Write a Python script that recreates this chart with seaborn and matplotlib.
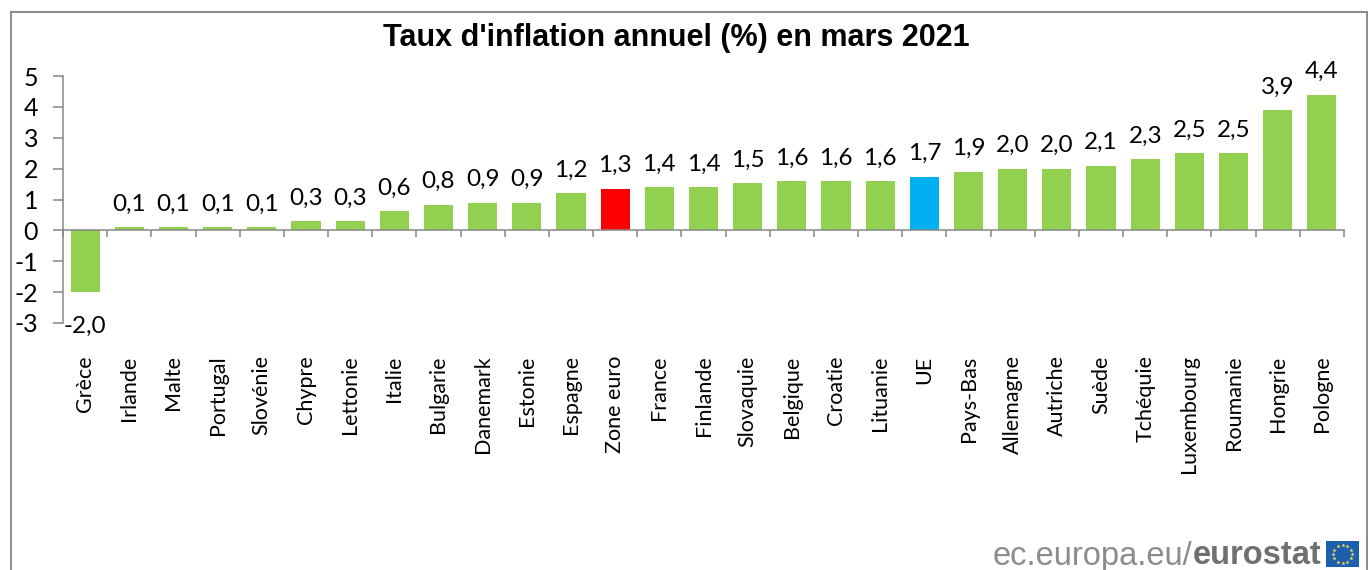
import numpy as np
import pandas as pd
import seaborn as sns
import matplotlib
matplotlib.use('Agg')
import matplotlib.pyplot as plt
from matplotlib.patches import Rectangle

# Data
countries = ['Grèce', 'Irlande', 'Malte', 'Portugal', 'Slovénie', 'Chypre', 'Lettonie', 'Italie',
             'Bulgarie', 'Danemark', 'Estonie', 'Espagne', 'Zone euro', 'France', 'Finlande',
             'Slovaquie', 'Belgique', 'Croatie', 'Lituanie', 'UE', 'Pays-Bas', 'Allemagne',
             'Autriche', 'Suède', 'Tchéquie', 'Luxembourg', 'Roumanie', 'Hongrie', 'Pologne']
inflation = [-2.0, 0.1, 0.1, 0.1, 0.1, 0.3, 0.3, 0.63, 0.83, 0.9, 0.9, 1.2, 1.35, 1.4, 1.4,
             1.53, 1.6, 1.6, 1.6, 1.74, 1.9, 2.0, 2.0, 2.1, 2.3, 2.5, 2.5, 3.9, 4.4]
value_labels = ['-2,0', '0,1', '0,1', '0,1', '0,1', '0,3', '0,3', '0,6', '0,8', '0,9', '0,9', '1,2',
                '1,3', '1,4', '1,4', '1,5', '1,6', '1,6', '1,6', '1,7', '1,9', '2,0', '2,0', '2,1',
                '2,3', '2,5', '2,5', '3,9', '4,4']
y_ticks = [-3, -2, -1, 0, 1, 2, 3, 4, 5]

df = pd.DataFrame({'pays': countries, 'taux': inflation})

GREEN = '#92D050'
GREY = '#868686'
colors = {c: GREEN for c in countries}
colors['Zone euro'] = '#FF0000'
colors['UE'] = '#00B0F0'

W, H = 1370, 570
plt.rcParams['font.family'] = ['Lato', 'DejaVu Sans']
fig = plt.figure(figsize=(W / 100, H / 100), dpi=100)

# Axes box in pixels: x 63-1344, y 76-323
ax = fig.add_axes([63 / W, 1 - 323 / H, (1344 - 63) / W, (323 - 76) / H])
sns.barplot(data=df, x='pays', y='taux', hue='pays', palette=colors, dodge=False,
            width=0.66, legend=False, ax=ax, saturation=1)

ax.set_xlim(-0.5, len(countries) - 0.5)
ax.set_ylim(-3, 5)
ax.set_xlabel('')
ax.set_ylabel('')
ax.set_yticks(y_ticks)
ax.set_yticklabels([str(t) for t in y_ticks])

for s in ['top', 'right']:
    ax.spines[s].set_visible(False)
ax.spines['bottom'].set_position(('data', 0))
for s in ['left', 'bottom']:
    ax.spines[s].set_color(GREY)
    ax.spines[s].set_linewidth(1.1)

ax.tick_params(axis='y', direction='out', length=7, width=1.1, color=GREY, labelsize=18, pad=11)
ax.set_xticks(range(len(countries)))
ax.set_xticklabels(countries, rotation=90, ha='center', va='top', fontsize=15.5)
ax.tick_params(axis='x', which='major', length=0, pad=90)
ax.set_xticks(np.arange(len(countries) + 1) - 0.5, minor=True)
ax.tick_params(axis='x', which='minor', direction='out', length=5, width=1.1, color=GREY)

for i, (v, lab) in enumerate(zip(inflation, value_labels)):
    if v < 0:
        ax.annotate(lab, (i, v), xytext=(0, -17), textcoords='offset points',
                    ha='center', va='top', fontsize=17.5, color='black')
    else:
        ax.annotate(lab, (i, v), xytext=(0, 9), textcoords='offset points',
                    ha='center', va='bottom', fontsize=17.5, color='black')

# Outer frame, open at the bottom of the picture
for xs, ys in [([11, 11], [570, 12]), ([11, 1367], [12, 12]), ([1367, 1367], [12, 570])]:
    fig.add_artist(plt.Line2D([x / W for x in xs], [1 - y / H for y in ys], color='#8A8A8A', lw=1.4))

fig.text(676 / W, 1 - 38 / H, "Taux d'inflation annuel (%) en mars 2021", ha='center', va='center',
         fontsize=22, fontweight='bold', family='Liberation Sans', color='black')

# Eurostat logo
fig.text(993 / W, 1 - 556 / H, 'ec.europa.eu/', ha='left', va='center', fontsize=23.5,
         family='Liberation Sans', color='#8C8C8C')
fig.text(1193 / W, 1 - 556 / H, 'eurostat', ha='left', va='center', fontsize=23.5, fontweight='bold',
         family='Liberation Sans', color='#707070')

flag = fig.add_axes([1326 / W, 1 - 567 / H, 33 / W, 26 / H])
flag.add_patch(Rectangle((0, 0), 1, 1, color='#1C5FAE'))
angles = np.arange(12) * np.pi / 6
flag.scatter(0.5 + 0.3 * np.cos(angles), 0.5 + 0.34 * np.sin(angles), marker='*', s=10, color='#FFE14A', lw=0)
flag.set_xlim(0, 1)
flag.set_ylim(0, 1)
flag.axis('off')

fig.savefig('out.png', dpi=100)
